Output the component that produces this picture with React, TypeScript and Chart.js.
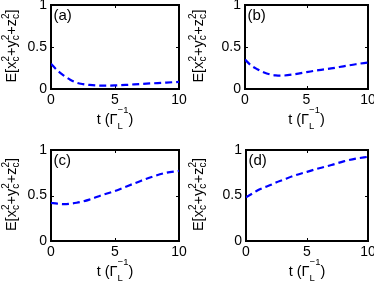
import React, { useEffect, useRef } from "react";
import { Chart, registerables } from "chart.js";

Chart.register(...registerables);

// ---- data ----
const TIMES = [0, 0.5, 1, 1.5, 2, 2.5, 3, 4, 5, 6, 7, 8, 9, 10];
const SERIES_A = [0.3, 0.22, 0.16, 0.11, 0.075, 0.058, 0.048, 0.04, 0.042, 0.05, 0.06, 0.068, 0.076, 0.085];
const SERIES_B = [0.35, 0.28, 0.235, 0.2, 0.175, 0.163, 0.16, 0.175, 0.2, 0.225, 0.245, 0.27, 0.295, 0.315];
const SERIES_C = [0.42, 0.41, 0.405, 0.41, 0.42, 0.435, 0.455, 0.505, 0.55, 0.605, 0.66, 0.71, 0.75, 0.77];
const SERIES_D = [0.48, 0.52, 0.56, 0.59, 0.615, 0.645, 0.67, 0.72, 0.76, 0.8, 0.835, 0.875, 0.905, 0.925];
const PANEL_LABELS = ["(a)", "(b)", "(c)", "(d)"];
const X_TICKS = [0, 5, 10];
const Y_TICKS = [0, 0.5, 1];
const X_MIN = 0, X_MAX = 10, Y_MIN = 0, Y_MAX = 1;

const ALL_SERIES = [SERIES_A, SERIES_B, SERIES_C, SERIES_D];

// ---- layout ----
const PW = 187, PH = 142;
const PANELS = [
  { left: 0, top: 0, l: 51, r: 179, t: 5, b: 89 },
  { left: 187, top: 0, l: 58, r: 181, t: 5, b: 89 },
  { left: 0, top: 142, l: 51, r: 179, t: 8, b: 99 },
  { left: 187, top: 142, l: 59, r: 181, t: 8, b: 99 },
];
const Y_W = 30, X_H = 20;
const FAMILY = '"Liberation Sans", Arial, Helvetica, sans-serif';

type Part = { t: string } | { sub: string; sup: string };
const Y_TITLE: Part[] = [
  { t: "E[x" }, { sub: "c", sup: "2" }, { t: "+y" }, { sub: "c", sup: "2" },
  { t: "+z" }, { sub: "c", sup: "2" }, { t: "]" },
];
const X_TITLE: Part[] = [{ t: "t (Γ" }, { sub: "L", sup: "−1" }, { t: ")" }];

function richWidth(ctx: CanvasRenderingContext2D, parts: Part[], main: number, script: number) {
  let w = 0;
  for (const p of parts) {
    if ("t" in p) {
      ctx.font = `${main}px ${FAMILY}`;
      w += ctx.measureText(p.t).width;
    } else {
      ctx.font = `${script}px ${FAMILY}`;
      w += Math.max(ctx.measureText(p.sub).width, ctx.measureText(p.sup).width);
    }
  }
  return w;
}

function drawRich(
  ctx: CanvasRenderingContext2D, parts: Part[], x: number, y: number,
  main: number, script: number, subDy: number, supDy: number
) {
  let cx = x;
  ctx.textBaseline = "alphabetic";
  ctx.textAlign = "left";
  for (const p of parts) {
    if ("t" in p) {
      ctx.font = `${main}px ${FAMILY}`;
      ctx.fillText(p.t, cx, y);
      cx += ctx.measureText(p.t).width;
    } else {
      ctx.font = `${script}px ${FAMILY}`;
      ctx.fillText(p.sub, cx, y + subDy);
      ctx.fillText(p.sup, cx, y + supDy);
      cx += Math.max(ctx.measureText(p.sub).width, ctx.measureText(p.sup).width);
    }
  }
}

function makePlugin(idx: number) {
  return {
    id: "frame" + idx,
    beforeDatasetsDraw(chart: any) {
      const ctx: CanvasRenderingContext2D = chart.ctx;
      const a = chart.chartArea;
      const xs = chart.scales.x, ys = chart.scales.y;
      ctx.save();
      ctx.strokeStyle = "#000";
      ctx.lineWidth = 2;
      ctx.strokeRect(a.left, a.top, a.right - a.left, a.bottom - a.top);
      ctx.lineWidth = 1;
      ctx.beginPath();
      for (const v of X_TICKS) {
        const px = Math.round(xs.getPixelForValue(v)) + 0.5;
        ctx.moveTo(px, a.bottom); ctx.lineTo(px, a.bottom - 3);
        ctx.moveTo(px, a.top); ctx.lineTo(px, a.top + 3);
      }
      for (const v of Y_TICKS) {
        const py = Math.round(ys.getPixelForValue(v)) + 0.5;
        ctx.moveTo(a.left, py); ctx.lineTo(a.left + 3, py);
        ctx.moveTo(a.right, py); ctx.lineTo(a.right - 3, py);
      }
      ctx.stroke();
      ctx.restore();
    },
    afterDraw(chart: any) {
      const ctx: CanvasRenderingContext2D = chart.ctx;
      const a = chart.chartArea;
      ctx.save();
      ctx.fillStyle = "#000";
      // panel label
      ctx.font = `15px ${FAMILY}`;
      ctx.textAlign = "left";
      ctx.textBaseline = "alphabetic";
      ctx.fillText(PANEL_LABELS[idx], a.left + 2.5, a.top + 15);
      // x title
      const xw = richWidth(ctx, X_TITLE, 14.5, 9.5);
      const xc = (a.left + a.right) / 2;
      drawRich(ctx, X_TITLE, xc - xw / 2, a.bottom + 35, 14.5, 9.5, 5, -11);
      // y title
      const yw = richWidth(ctx, Y_TITLE, 14.5, 10);
      const yc = (a.top + a.bottom) / 2 - 1;
      ctx.translate(15.5, yc);
      ctx.rotate(-Math.PI / 2);
      drawRich(ctx, Y_TITLE, -yw / 2, 0, 14.5, 10, 3, -6.5);
      ctx.restore();
    },
  };
}

function Panel({ idx }: { idx: number }) {
  const ref = useRef<HTMLCanvasElement>(null);
  useEffect(() => {
    const g = PANELS[idx];
    const vals = ALL_SERIES[idx];
    const tickFont = { family: FAMILY, size: 14 };
    const chart = new Chart(ref.current as HTMLCanvasElement, {
      type: "line",
      data: {
        datasets: [
          {
            data: TIMES.map((t, i) => ({ x: t, y: vals[i] })),
            borderColor: "#0000ff",
            borderWidth: 2.2,
            borderDash: [7, 4],
            pointRadius: 0,
            fill: false,
            cubicInterpolationMode: "monotone",
          },
        ],
      },
      options: {
        animation: false,
        responsive: false,
        maintainAspectRatio: false,
        events: [],
        layout: {
          padding: { left: g.l - Y_W, right: PW - g.r, top: g.t, bottom: PH - g.b - X_H },
        },
        plugins: { legend: { display: false }, tooltip: { enabled: false } },
        scales: {
          x: {
            type: "linear",
            min: X_MIN,
            max: X_MAX,
            afterBuildTicks: (s: any) => { s.ticks = X_TICKS.map((v) => ({ value: v })); },
            ticks: { font: tickFont, color: "#000", padding: 3, maxRotation: 0, autoSkip: false },
            grid: { display: false, drawTicks: false },
            border: { display: false },
            afterFit: (s: any) => { s.height = X_H; s.paddingLeft = 0; s.paddingRight = 0; },
          },
          y: {
            type: "linear",
            min: Y_MIN,
            max: Y_MAX,
            afterBuildTicks: (s: any) => { s.ticks = Y_TICKS.map((v) => ({ value: v })); },
            ticks: { font: tickFont, color: "#000", padding: 4, autoSkip: false, callback: (v: any) => String(v) },
            grid: { display: false, drawTicks: false },
            border: { display: false },
            afterFit: (s: any) => { s.width = Y_W; s.paddingTop = 0; s.paddingBottom = 0; },
          },
        },
      } as any,
      plugins: [makePlugin(idx)],
    });
    return () => chart.destroy();
  }, [idx]);
  const g = PANELS[idx];
  return (
    <canvas
      ref={ref}
      width={PW}
      height={PH}
      style={{ position: "absolute", left: g.left, top: g.top, width: PW, height: PH }}
    />
  );
}

export default function App() {
  return (
    <div style={{ position: "fixed", left: 0, top: 0, width: 374, height: 284, background: "#fff" }}>
      {PANELS.map((_, i) => (
        <Panel key={i} idx={i} />
      ))}
    </div>
  );
}
